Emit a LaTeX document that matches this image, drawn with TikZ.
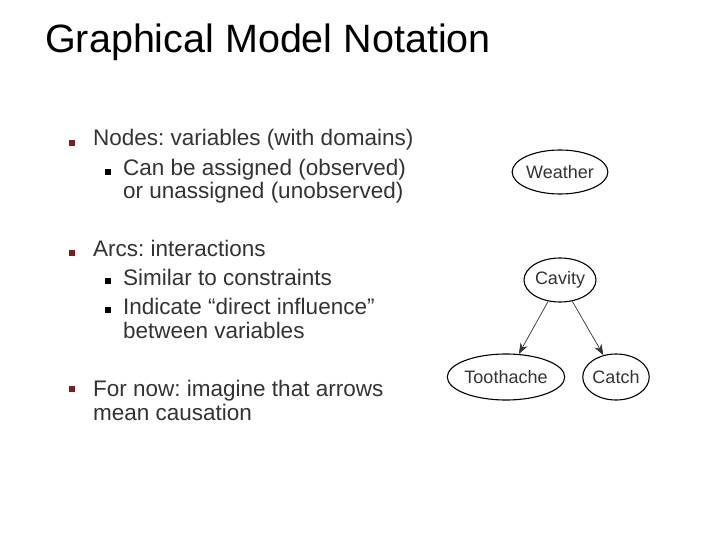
\documentclass[tikz,border=0pt]{standalone}
\usepackage{fontspec}
\setmainfont{Liberation Sans}
\usetikzlibrary{arrows.meta,shapes.geometric}
\definecolor{txt}{HTML}{333333}
\definecolor{bul}{HTML}{7A1F1F}
\begin{document}
\frenchspacing
\begin{tikzpicture}[x=1pt,y=-1pt,
  main/.style={anchor=base west,font=\fontsize{22.5}{24}\selectfont,text=txt,inner sep=0pt},
  sub/.style={anchor=base west,font=\fontsize{22.5}{24}\selectfont,text=txt,inner sep=0pt},
  bsq/.style={fill=bul,minimum size=6pt,inner sep=0pt},
  ssq/.style={fill=black,minimum size=5.5pt,inner sep=0pt},
  var/.style={draw=black,ellipse,line width=1.1pt,font=\fontsize{18}{19}\selectfont,text=txt,inner sep=0pt},
  arr/.style={-{Stealth[length=11pt,width=8pt]},line width=0.7pt,draw=txt}]
\useasboundingbox (0,0) rectangle (720,540);
\node[anchor=base west,inner sep=0pt,font=\fontsize{39.5}{42}\selectfont] (title) at (45,53) {Graphical Model Notation};
\node[bsq] (b1) at (72,143) {};
\node[main] (t1) at (93,146) {Nodes: variables (with domains)};
\node[ssq] (s1) at (108,172) {};
\node[sub] (t1a) at (123,176) {Can be assigned (observed)};
\node[sub] (t1b) at (123,199) {or unassigned (unobserved)};
\node[bsq] (b2) at (72,253) {};
\node[main] (t2) at (93,256) {Arcs: interactions};
\node[ssq] (s2) at (108,281) {};
\node[sub] (t2a) at (123,285) {Similar to constraints};
\node[ssq] (s3) at (108,310) {};
\node[sub] (t2b) at (123,314) {Indicate “direct influence”};
\node[sub] (t2c) at (123,338) {between variables};
\node[bsq] (b3) at (72,389) {};
\node[main] (t3) at (93,396) {For now: imagine that arrows};
\node[main] (t3b) at (93,420) {mean causation};
\node[var,minimum width=92pt,minimum height=44pt] (w) at (560,172) {Weather};
\node[var,minimum width=72pt,minimum height=44pt] (c) at (560,280) {Cavity};
\node[var,minimum width=104pt,minimum height=46pt] (t) at (506,377) {Toothache};
\node[var,minimum width=64pt,minimum height=46pt] (k) at (616,377) {Catch};
\draw[arr] (c) -- (t);
\draw[arr] (c) -- (k);
\end{tikzpicture}
\end{document}
